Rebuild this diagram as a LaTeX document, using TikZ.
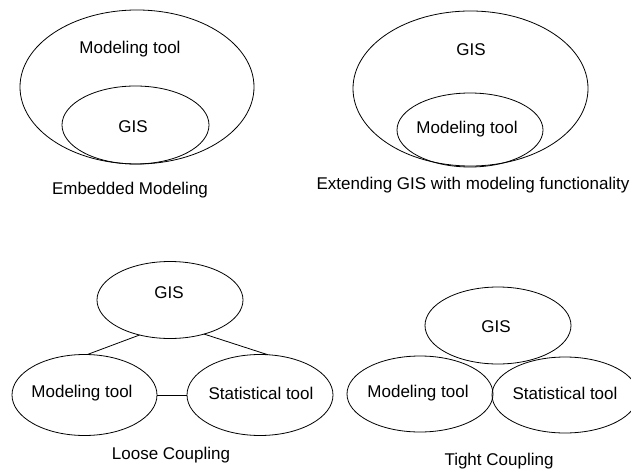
\documentclass[tikz,border=0pt]{standalone}
\usepackage{fontspec}
\setmainfont{Liberation Sans}
\usetikzlibrary{shapes.geometric}
\begin{document}
\begin{tikzpicture}[x=1pt,y=-1pt,
  oval/.style={draw, ellipse, inner sep=0pt, outer sep=0pt, line width=0.8pt},
  lbl/.style={font=\fontsize{17}{20}\selectfont, inner sep=0pt},
  link/.style={draw, line width=0.8pt}]
\useasboundingbox (0,0) rectangle (631,470);

% Embedded modeling: GIS inside the modeling tool
\node[oval, minimum width=234pt, minimum height=154pt] (emOuter) at (137,87) {};
\node[oval, minimum width=147pt, minimum height=78pt] (emInner) at (135.5,125) {};
\node[lbl] (emTool) at (130,49) {Modeling tool};
\node[lbl] (emGis) at (133,127) {GIS};
\node[lbl] (emCap) at (130,190) {Embedded Modeling};

% Extending GIS: modeling tool inside the GIS
\node[oval, minimum width=235pt, minimum height=155pt] (exOuter) at (470.5,88.5) {};
\node[oval, minimum width=146pt, minimum height=74pt] (exInner) at (470,130) {};
\node[lbl] (exGis) at (471,50) {GIS};
\node[lbl] (exTool) at (467,129) {Modeling tool};
\node[lbl] (exCap) at (473,185) {Extending GIS with modeling functionality};

% Loose coupling: three separate components joined by links
\node[oval, minimum width=146pt, minimum height=77pt] (lcGis) at (170,300) {};
\node[oval, minimum width=145pt, minimum height=81pt] (lcTool) at (84.5,395) {};
\node[oval, minimum width=146pt, minimum height=81pt] (lcStat) at (260,395) {};
\node[lbl] (lcGisT) at (169,293) {GIS};
\node[lbl] (lcToolT) at (82,393) {Modeling tool};
\node[lbl] (lcStatT) at (261,393) {Statistical tool};
\node[lbl] (lcCap) at (171,455) {Loose Coupling};
\path[link] (lcGis.229) -- (lcTool.86);
\path[link] (lcGis.315) -- (lcStat.79);
\path[link] (lcTool.east) -- (lcStat.west);

% Tight coupling: three touching components
\node[oval, minimum width=146pt, minimum height=77pt] (tcGis) at (498,325.5) {};
\node[oval, minimum width=146pt, minimum height=76pt] (tcTool) at (420,394) {};
\node[oval, minimum width=146pt, minimum height=76pt] (tcStat) at (565,395) {};
\node[lbl] (tcGisT) at (496,327) {GIS};
\node[lbl] (tcToolT) at (418,393) {Modeling tool};
\node[lbl] (tcStatT) at (565,393) {Statistical tool};
\node[lbl] (tcCap) at (499,461) {Tight Coupling};
\end{tikzpicture}
\end{document}
